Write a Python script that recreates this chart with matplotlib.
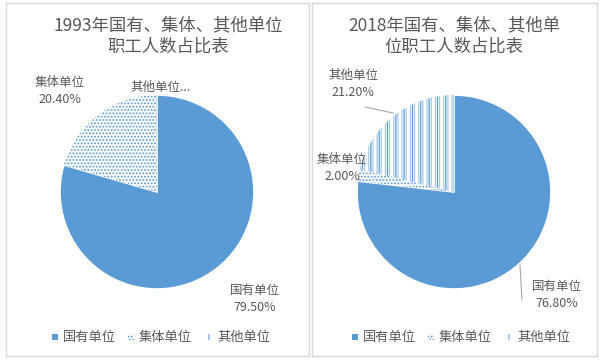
import matplotlib.pyplot as plt
from matplotlib.patches import Rectangle

plt.rcParams['font.family'] = ['Noto Sans CJK SC', 'DejaVu Sans']
plt.rcParams['hatch.linewidth'] = 0.9

# data
categories = ['国有单位', '集体单位', '其他单位']
share_1993 = [79.5, 20.4, 0.1]
share_2018 = [76.8, 2.0, 21.2]
title_1993 = '1993年国有、集体、其他单位\n职工人数占比表'
title_2018 = '2018年国有、集体、其他单\n位职工人数占比表'

BLUE = '#5B9BD5'
LIGHT = '#A9CBEA'
GREY = '#595959'
H = 362

def Y(y):
    # pixel row from top -> data y
    return H - y

fig = plt.figure(figsize=(6, 3.62), dpi=100)
ax = fig.add_axes([0, 0, 1, 1])

def draw_pie(cx, vals):
    wedges, _ = ax.pie(vals, center=(cx, Y(192)), radius=97, startangle=90,
                       counterclock=False, frame=True)
    wedges[0].set_facecolor(BLUE)
    wedges[0].set_edgecolor('white')
    wedges[0].set_linewidth(1.2)
    wedges[1].set_facecolor('white')
    wedges[1].set_edgecolor(BLUE)
    wedges[1].set_linewidth(0)
    wedges[1].set_hatch('.....')
    wedges[2].set_facecolor('white')
    wedges[2].set_edgecolor(LIGHT)
    wedges[2].set_linewidth(0)
    wedges[2].set_hatch('||||')
    # darker every other stripe
    over, _ = ax.pie(vals, center=(cx, Y(192)), radius=97, startangle=90,
                     counterclock=False, frame=True)
    over[0].set_visible(False)
    over[1].set_visible(False)
    over[2].set_facecolor('none')
    over[2].set_edgecolor(BLUE)
    over[2].set_linewidth(0)
    over[2].set_hatch('||')

def legend(x0):
    xs = [x0, x0 + 76, x0 + 154]
    ax.add_patch(Rectangle((xs[0] - 3, Y(337) - 3), 6, 6, facecolor=BLUE,
                           edgecolor='none'))
    ax.add_patch(Rectangle((xs[1] - 3, Y(337) - 3), 6, 6, facecolor='white',
                           edgecolor=BLUE, linewidth=0, hatch='.....'))
    ax.add_patch(Rectangle((xs[2] - 1, Y(337) - 3), 1.5, 6, facecolor=LIGHT,
                           edgecolor='none'))
    for x, c in zip(xs, categories):
        ax.text(x + 8, Y(337), c, fontsize=9.5, color=GREY, va='center', ha='left')

def label(x, y, name, v):
    ax.text(x, Y(y), f'{name}\n{v:.2f}%', fontsize=9, color=GREY,
            ha='center', va='center', linespacing=1.35)

# panel frames
ax.add_patch(Rectangle((6, Y(356)), 303, 353, fill=False, edgecolor='#D9D9D9', lw=1))
ax.add_patch(Rectangle((312, Y(356)), 285, 353, fill=False, edgecolor='#D9D9D9', lw=1))

# left: 1993
draw_pie(157, share_1993)
ax.text(168, Y(36), title_1993, fontsize=12.5, color=GREY, ha='center',
        va='center', linespacing=1.3)
label(60, 91, categories[1], share_1993[1])
ax.text(161, Y(87), categories[2] + '...', fontsize=9, color=GREY,
        ha='center', va='center')
label(255, 299, categories[0], share_1993[0])
legend(55)

# right: 2018
draw_pie(454, share_2018)
ax.text(454, Y(36), title_2018, fontsize=12.5, color=GREY, ha='center',
        va='center', linespacing=1.3)
label(353, 84, categories[2], share_2018[2])
label(342, 168, categories[1], share_2018[1])
label(557, 295, categories[0], share_2018[0])
ax.plot([365, 393], [Y(107), Y(113)], color='#A6A6A6', lw=0.8)
ax.plot([520, 522], [Y(265), Y(300)], color='#A6A6A6', lw=0.8)
legend(355)

ax.set_xlim(0, 600)
ax.set_ylim(0, H)
ax.set_aspect('auto')
ax.axis('off')

fig.savefig('out.png', dpi=100)
